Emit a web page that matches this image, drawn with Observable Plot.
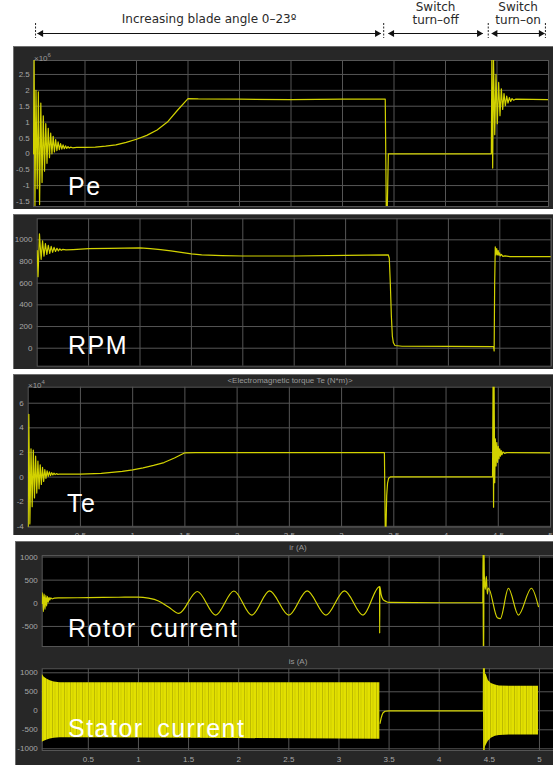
<!DOCTYPE html>
<html><head><meta charset="utf-8">
<script src="https://cdn.jsdelivr.net/npm/d3@7"></script>
<script src="https://cdn.jsdelivr.net/npm/@observablehq/plot@0.6"></script>
<style>
body{margin:0;background:#fff;}
#root{position:relative;width:553px;height:765px;overflow:hidden;font-family:"Liberation Sans",Arial,sans-serif;}
.frame{position:absolute;background:#272727;overflow:hidden;box-shadow:inset 1px 1px 0 #6e6e6e;}
.frame > div{position:absolute;left:0;}
.big{position:absolute;color:#fff;font-size:25px;line-height:25px;letter-spacing:1.5px;word-spacing:5px;white-space:nowrap;font-family:"Liberation Sans",Arial,sans-serif;}
.small{position:absolute;color:#9a9a9a;font-size:8px;line-height:10px;white-space:nowrap;}
</style></head>
<body>
<svg width="0" height="0" style="position:absolute">
  <defs>
    <pattern id="stripes" width="6" height="20" patternUnits="userSpaceOnUse">
      <rect width="6" height="20" fill="#e2e000"/>
      <rect x="1" width="0.8" height="20" fill="#b4b100"/>
      <rect x="3.5" width="1" height="20" fill="#cfcc00"/>
    </pattern>
  </defs>
</svg>
<div id="root">
  <div id="anno" style="position:absolute;left:0;top:0"></div>
  <div class="frame" id="f1" style="left:13px;top:46px;width:540px;height:163px"></div>
  <div class="frame" id="f2" style="left:13px;top:214px;width:540px;height:155px"></div>
  <div class="frame" id="f3" style="left:13px;top:374px;width:540px;height:161px"></div>
  <div class="frame" id="f4" style="left:15px;top:541px;width:538px;height:224px">
    <div id="p4" style="top:0"></div>
    <div id="p5" style="top:111px"></div>
  </div>
  <div class="small" style="left:34px;top:50px">×10<sup style="font-size:6px">6</sup></div>
  <div class="small" style="left:28px;top:377px">×10<sup style="font-size:6px">4</sup></div>
  <div class="small" style="left:290px;top:376px;transform:translateX(-50%)">&lt;Electromagnetic torque Te (N*m)&gt;</div>
  <div class="small" style="left:298px;top:543px;transform:translateX(-50%)">ir (A)</div>
  <div class="small" style="left:298px;top:657px;transform:translateX(-50%)">is (A)</div>
  <div class="big" style="left:68px;top:174px">Pe</div>
  <div class="big" style="left:68px;top:333px">RPM</div>
  <div class="big" style="left:67px;top:491px">Te</div>
  <div class="big" style="left:68px;top:616px">Rotor current</div>
  <div class="big" style="left:68px;top:716px">Stator current</div>
</div>
<script>
// ---------- data ----------
const timeTicks = [0.5, 1, 1.5, 2, 2.5, 3, 3.5, 4, 4.5, 5];

const peTicks = [-1.5, -1, -0.5, 0, 0.5, 1, 1.5, 2, 2.5];
const peT = [0,0.006,0.014,0.024,0.036,0.047,0.059,0.071,0.083,0.095,0.107,0.119,0.131,0.143,0.155,0.167,0.179,0.191,0.203,0.215,0.227,0.239,0.251,0.263,0.275,0.287,0.299,0.311,0.323,0.335,0.347,0.36,0.38,0.42,0.5,0.6,0.7,0.8,0.9,1.0,1.1,1.2,1.3,1.4,1.5,1.6,2.0,2.5,3.0,3.415,3.425,3.435,3.445,3.5,4.0,4.445,4.45,4.458,4.466,4.478,4.49,4.503,4.516,4.529,4.542,4.555,4.568,4.581,4.594,4.607,4.62,4.633,4.646,4.66,4.68,5.0];
const peV = [0,3.0,-1.7,2.0,-1.1,1.95,-1.6,1.6,-0.9,1.2,-0.55,0.95,-0.3,0.8,-0.12,0.65,0.0,0.55,0.06,0.45,0.1,0.38,0.13,0.32,0.15,0.28,0.16,0.25,0.17,0.23,0.18,0.21,0.19,0.2,0.2,0.21,0.24,0.28,0.36,0.46,0.58,0.75,1.0,1.38,1.74,1.73,1.72,1.71,1.72,1.72,-1.7,-1.7,0.0,0.0,0.0,0.0,3.0,-0.45,3.0,0.6,2.5,0.95,2.25,1.2,2.05,1.4,1.9,1.52,1.82,1.6,1.77,1.65,1.74,1.69,1.72,1.71];

const rpmTicks = [0, 200, 400, 600, 800, 1000];
const rpmT = [0,0.008,0.022,0.038,0.052,0.066,0.08,0.094,0.108,0.122,0.136,0.15,0.164,0.178,0.192,0.206,0.22,0.234,0.25,0.28,0.35,0.5,0.7,1.0,1.1,1.2,1.3,1.4,1.5,1.6,1.8,2.0,2.5,3.0,3.415,3.425,3.435,3.445,3.455,3.465,3.48,3.55,4.0,4.44,4.445,4.45,4.456,4.463,4.47,4.477,4.484,4.491,4.498,4.505,4.515,4.53,4.55,4.6,5.0];
const rpmV = [900,660,1055,820,990,850,965,865,950,875,940,885,930,893,922,898,917,903,912,907,910,918,922,925,918,910,898,885,870,862,855,851,851,856,862,830,600,300,110,50,25,18,16,15,-25,600,935,860,920,862,900,858,880,852,865,848,852,845,845];

const teTicks = [-4, -2, 0, 2, 4, 6];
const teT = [0,0.006,0.016,0.027,0.038,0.049,0.06,0.071,0.082,0.093,0.104,0.115,0.126,0.137,0.148,0.159,0.17,0.181,0.192,0.203,0.214,0.225,0.236,0.247,0.258,0.27,0.285,0.3,0.35,0.5,0.7,0.8,0.9,1.0,1.1,1.2,1.3,1.4,1.5,1.6,2.0,3.0,3.41,3.418,3.425,3.432,3.44,3.45,3.47,4.0,4.445,4.45,4.455,4.46,4.466,4.472,4.479,4.486,4.493,4.5,4.507,4.514,4.521,4.528,4.535,4.545,4.56,4.58,5.0];
const teV = [-4.1,5.1,-3.8,2.3,-2.4,2.2,-1.7,1.7,-1.3,1.3,-0.95,1.0,-0.6,0.8,-0.35,0.6,-0.1,0.5,0.05,0.42,0.12,0.36,0.17,0.32,0.2,0.28,0.22,0.25,0.24,0.24,0.3,0.38,0.47,0.59,0.75,0.95,1.18,1.55,1.97,1.98,1.98,1.98,1.98,-4.2,-4.2,-1.5,-0.5,-0.1,0.02,0.02,0.02,7.5,-2.45,7.5,-0.45,3.1,0.9,2.8,1.2,2.5,1.5,2.3,1.7,2.15,1.82,2.05,1.92,1.99,1.97];

const irTicks = [-500, 0, 500, 1000];
const irT = [0.04,0.045,0.052,0.06,0.068,0.076,0.084,0.092,0.1,0.108,0.116,0.125,0.14,0.16,0.2,0.5,0.8,1.0,1.1,1.2,1.3,1.404,1.587,1.77,1.952,2.13,2.308,2.5,2.683,2.87,3.055,3.24,3.405,3.406,3.408,3.42,3.44,3.47,3.5,4.0,4.435,4.438,4.44,4.442,4.444,4.446,4.45,4.46,4.47,4.48,4.49,4.58,4.61,4.69,4.79,4.92,4.99];
const irV = [0,230,-180,200,-130,170,-60,150,20,130,70,120,95,110,115,122,130,135,110,50,-80,-217,255,-254,265,-254,267,-254,267,-254,267,-254,360,-650,360,200,80,40,20,12,12,1200,-1200,1200,-1200,1200,600,300,580,200,330,-313,-330,325,-254,325,-74];

const isTicks = [-1000, -500, 0, 500, 1000];
const isT = [3.41,3.42,3.43,3.44,3.46,3.5,4.0,4.44,4.442,4.444,4.446,4.448,4.45,4.452];
const isV = [-330,-200,-110,-50,-12,0,0,0,1200,-1200,1200,-1200,1200,0];
const isBandT = [0.04,0.06,0.09,0.12,0.16,0.22,1.0,2.0,3.0,3.408,4.452,4.47,4.49,4.52,4.56,4.6,4.7,4.99];
const isBandHi = [960,880,830,790,760,740,735,735,735,735,1000,950,800,720,680,655,645,645];
const isBandLo = [-830,-800,-770,-740,-720,-710,-715,-730,-745,-750,-1000,-900,-800,-720,-670,-650,-640,-640];
const isBandSeg = [1,1,1,1,1,1,1,1,1,1,2,2,2,2,2,2,2,2];

const annoText = ["Increasing blade angle 0–23º", "Switch\nturn–off", "Switch\nturn–on"];
const annoFrom = [0.04, 3.447, 4.45];
const annoTo = [3.37, 4.36, 4.96];
const annoBounds = [0.02, 3.40, 4.415, 4.97];

// ---------- tables ----------
const zipTV = (T, V) => T.map((t, i) => ({t, v: V[i]}));
const pe = zipTV(peT, peV), rpm = zipTV(rpmT, rpmV), te = zipTV(teT, teV);
const ir = zipTV(irT, irV), isL = zipTV(isT, isV);
const isBand = isBandT.map((t, i) => ({t, hi: isBandHi[i], lo: isBandLo[i], seg: isBandSeg[i]}));
const anno = annoText.map((s, i) => ({s, a: annoFrom[i], b: annoTo[i], m: (annoFrom[i] + annoTo[i]) / 2, two: s.includes("\n")}));

const LINE = "#d2d200", GRID = "#555555", TICK = "#a6a6a6";
const fmt = d => String(d);

function makePanel(o) {
  return Plot.plot({
    width: o.w, height: o.h,
    marginLeft: o.mL, marginRight: o.mR, marginTop: o.mT, marginBottom: o.mB,
    style: {background: "transparent", color: TICK, fontSize: "8px", fontFamily: "'Liberation Sans', Arial, sans-serif"},
    x: {domain: o.xDomain, ticks: timeTicks, tickSize: 0, tickPadding: o.xPad ?? 3, tickFormat: fmt, label: null, axis: o.xAxis ? "bottom" : null},
    y: {domain: o.yDomain, ticks: o.yTicks, tickSize: 0, tickPadding: o.yPad, tickFormat: fmt, label: null},
    marks: [
      Plot.frame({fill: "#000", stroke: "none"}),
      Plot.ruleX(timeTicks, {stroke: GRID, strokeWidth: 1}),
      Plot.ruleY(o.yTicks, {stroke: GRID, strokeWidth: 1}),
      Plot.frame({stroke: GRID}),
      ...o.marks
    ]
  });
}

const lineOpts = {x: "t", y: "v", stroke: LINE, strokeWidth: 1.2, clip: true};

document.getElementById("f1").append(makePanel({
  w: 540, h: 163, mL: 20, mR: 5, mT: 14, mB: 3, yPad: 3.7,
  xDomain: [0, 5], yDomain: [-1.66, 2.94], yTicks: peTicks,
  marks: [Plot.line(pe, lineOpts)]
}));
document.getElementById("f2").append(makePanel({
  w: 540, h: 155, mL: 23.7, mR: 2.3, mT: 4.3, mB: 3.3, yPad: 4.7,
  xDomain: [0, 5], yDomain: [-166, 1194], yTicks: rpmTicks,
  marks: [Plot.line(rpm, lineOpts)]
}));
document.getElementById("f3").append(makePanel({
  w: 540, h: 161, mL: 14.7, mR: 3, mT: 12.7, mB: 8.3, yPad: 4.4, xAxis: true, xPad: 5,
  xDomain: [0, 5], yDomain: [-4.07, 7.3], yTicks: teTicks,
  marks: [Plot.line(te, lineOpts)]
}));
document.getElementById("p4").append(makePanel({
  w: 538, h: 111, mL: 26.7, mR: 0, mT: 14, mB: 6, yPad: 4.4,
  xDomain: [0.04, 5.14], yDomain: [-933, 1032], yTicks: irTicks,
  marks: [Plot.line(ir, {...lineOpts, curve: "monotone-x"})]
}));
document.getElementById("p5").append(makePanel({
  w: 538, h: 113, mL: 26.7, mR: 0, mT: 16.3, mB: 15, yPad: 4.4, xAxis: true, xPad: 5.5,
  xDomain: [0.04, 5.14], yDomain: [-1045, 1105], yTicks: isTicks,
  marks: [
    Plot.areaY(isBand, {x: "t", y1: "lo", y2: "hi", z: "seg", fill: "url(#stripes)", clip: true}),
    Plot.line(isL, lineOpts)
  ]
}));

// top annotation, sharing the time scale of the Pe panel
document.getElementById("anno").append(Plot.plot({
  width: 553, height: 46, margin: 0,
  style: {background: "transparent"},
  x: {domain: [0, 5], range: [33, 548], axis: null},
  y: {domain: [0, 46], range: [0, 46], axis: null},
  marks: [
    Plot.ruleX(annoBounds, {y1: 23, y2: 38, stroke: "#222", strokeWidth: 1, strokeDasharray: "2,1.5"}),
    Plot.link(anno, {x1: "a", x2: "b", y1: 33, y2: 33, stroke: "#111", strokeWidth: 1}),
    Plot.dot(anno, {x: "b", y: 33, symbol: "triangle", r: 2.6, rotate: 90, dx: -3.5, fill: "#111", stroke: "none"}),
    Plot.dot(anno, {x: "a", y: 33, symbol: "triangle", r: 2.6, rotate: -90, dx: 3.5, fill: "#111", stroke: "none"}),
    Plot.text(anno, {x: "m", y: d => d.two ? 13 : 18, text: "s", fontSize: 12, lineHeight: 1.05, fontFamily: "DejaVu Sans", fill: "#2a2a2a", textAnchor: "middle"})
  ]
}));
</script>
</body></html>
